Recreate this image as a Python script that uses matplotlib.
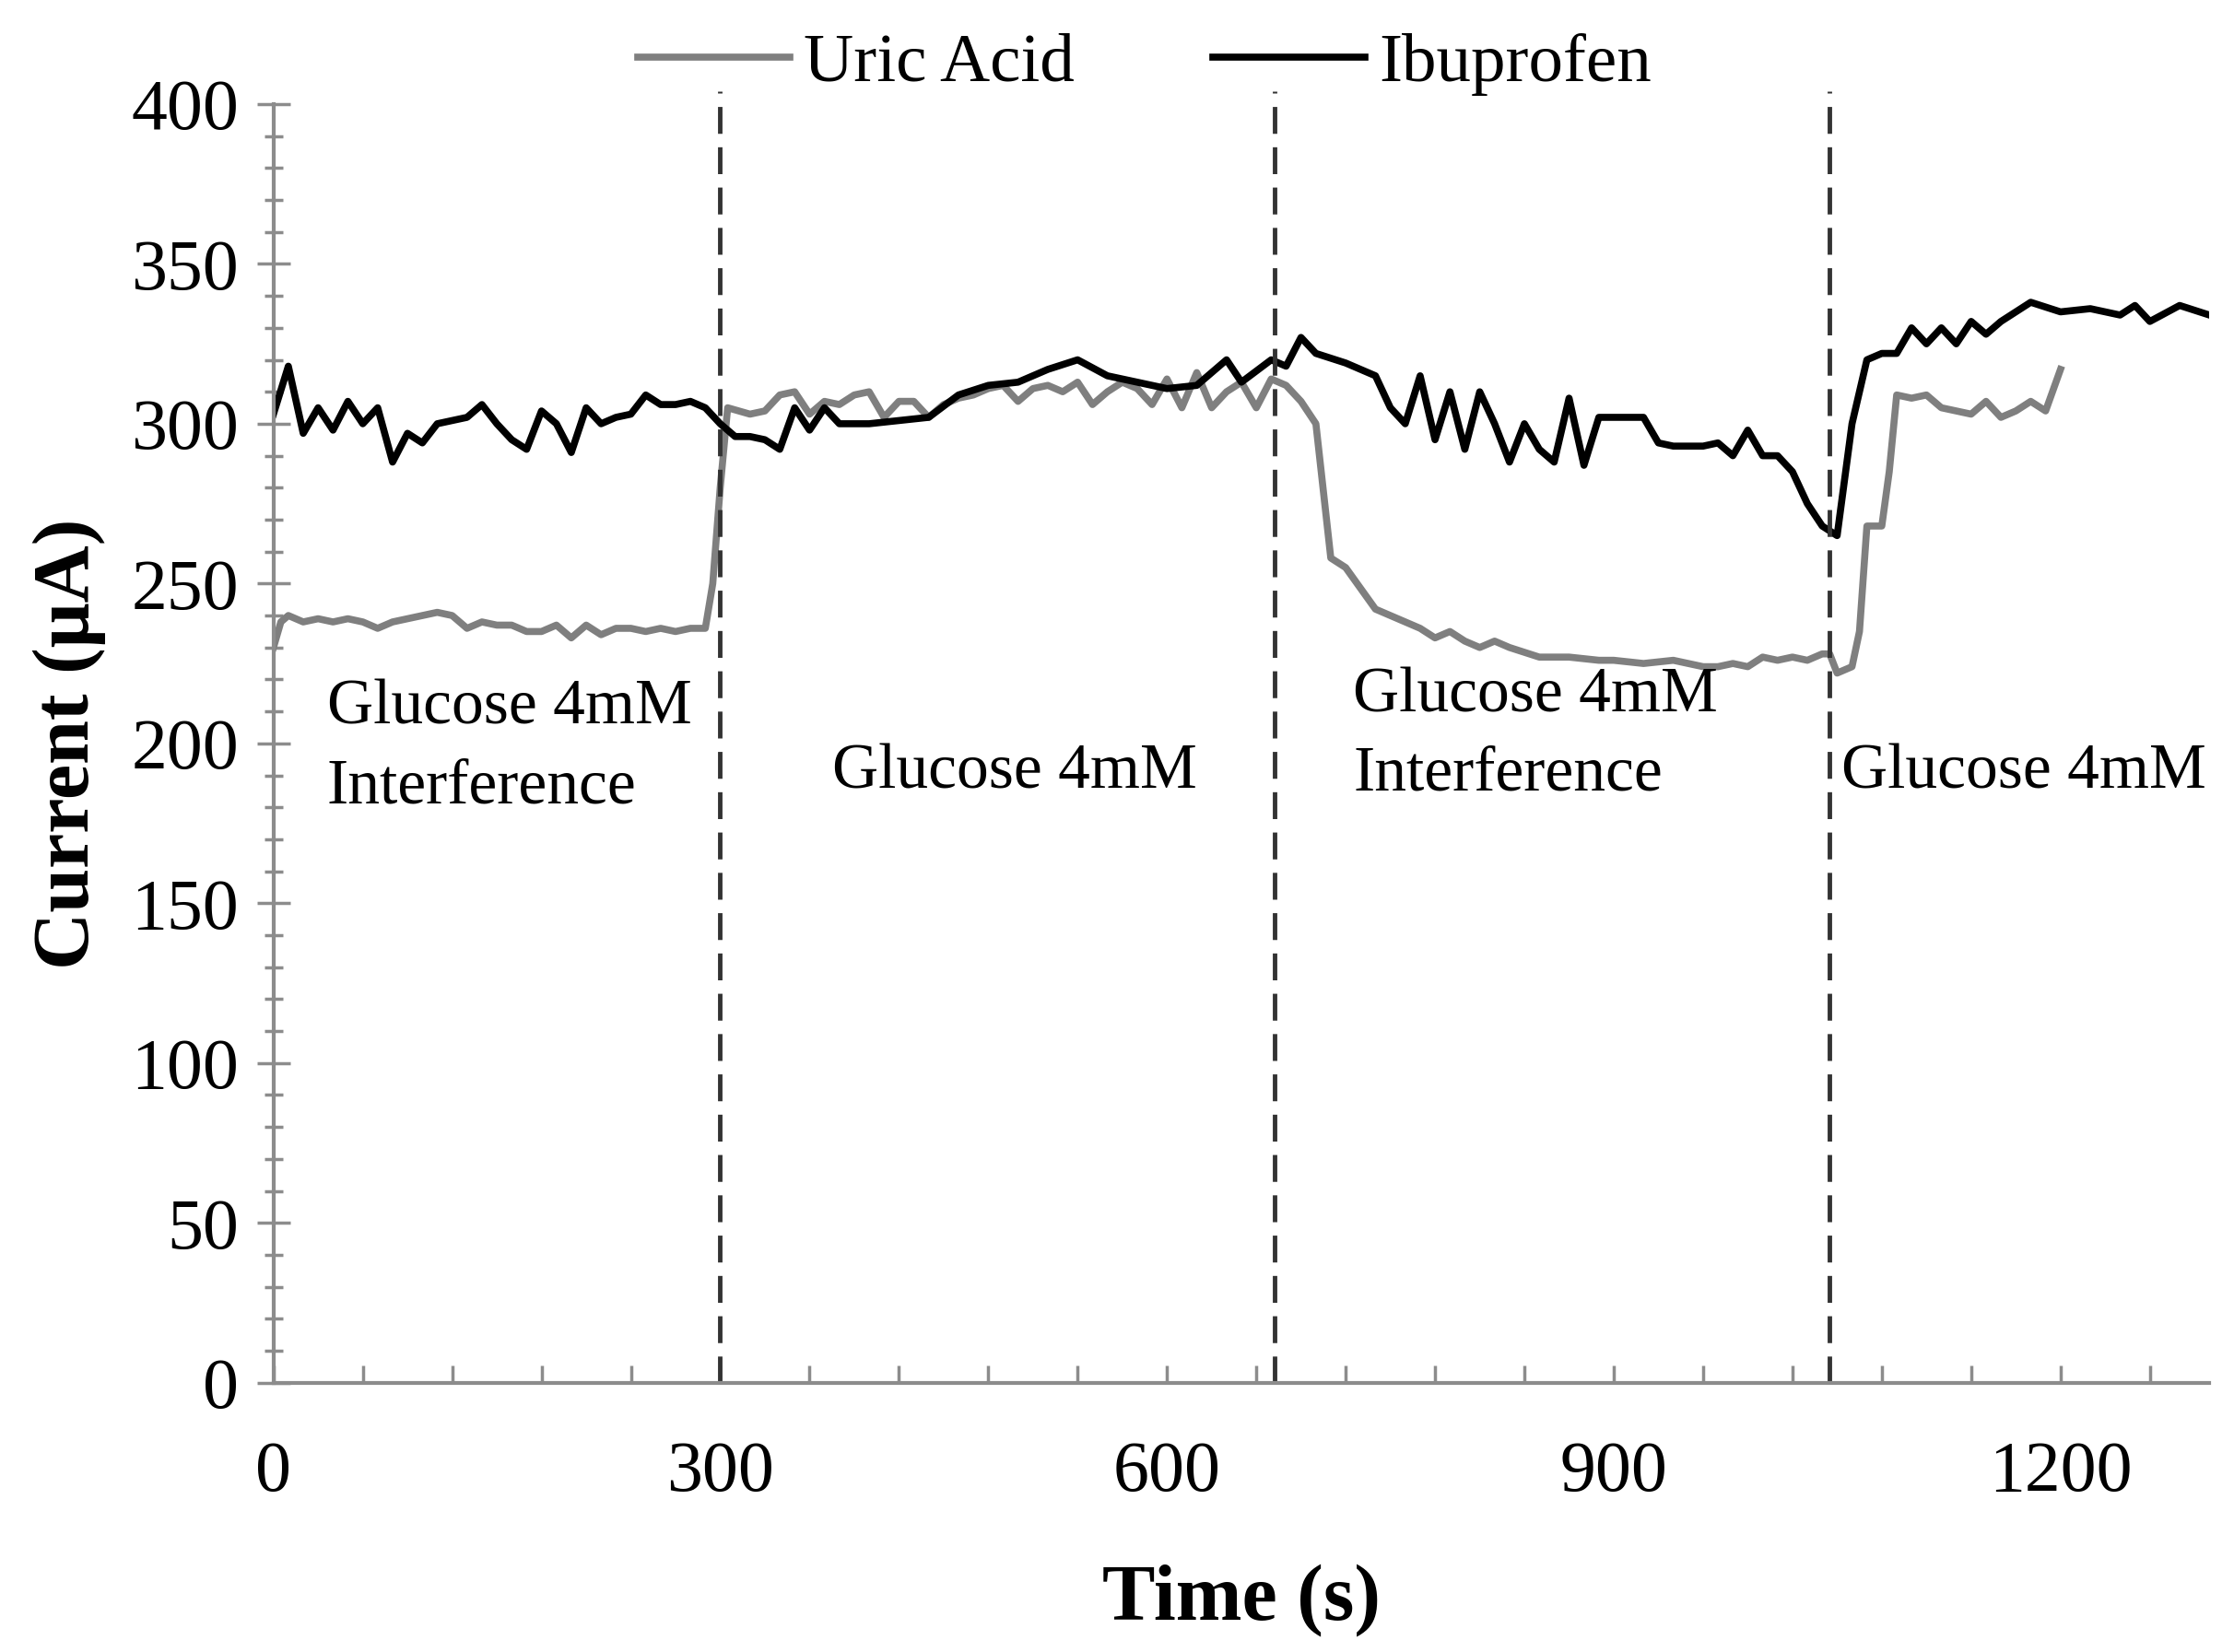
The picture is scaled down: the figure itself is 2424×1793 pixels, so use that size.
import matplotlib
matplotlib.use('Agg')
import matplotlib.pyplot as plt
import numpy as np

# Uric Acid (grey)
ua_t = [0, 5, 10, 20, 30, 40, 50, 60, 70, 80, 90, 100, 110, 120, 130, 140, 150, 160, 170, 180, 190, 200, 210, 220, 230, 240, 250, 260, 270, 280, 290, 295,
        300, 305, 320, 330, 340, 350, 360, 370, 380, 390, 400, 410, 420, 430, 440, 450, 460, 470, 480, 490, 500, 510, 520, 530, 540, 550, 560, 570, 580, 590, 600, 610, 620, 630, 640, 650, 660, 670, 680, 690,
        700, 710, 720, 740, 750, 760, 770, 780, 790, 800, 810, 820, 830, 850, 870, 890, 900, 920, 940, 950, 960, 970, 980, 990, 1000, 1010, 1020, 1030, 1040, 1045,
        1050, 1060, 1065, 1070, 1080, 1085, 1090, 1100, 1110, 1120, 1130, 1140, 1150, 1160, 1170, 1180, 1190, 1200]
ua_v = [230, 238, 240, 238, 239, 238, 239, 238, 236, 238, 239, 240, 241, 240, 236, 238, 237, 237, 235, 235, 237, 233, 237, 234, 236, 236, 235, 236, 235, 236, 236, 250,
        280, 305, 303, 304, 309, 310, 303, 307, 306, 309, 310, 302, 307, 307, 302, 306, 308, 309, 311, 312, 307, 311, 312, 310, 313, 306, 310, 313, 311, 306, 314, 305, 316, 305, 310, 313, 305, 314, 312, 307,
        300, 258, 255, 242, 240, 238, 236, 233, 235, 232, 230, 232, 230, 227, 227, 226, 226, 225, 226, 225, 224, 224, 225, 224, 227, 226, 227, 226, 228, 228,
        222, 224, 235, 268, 268, 285, 309, 308, 309, 305, 304, 303, 307, 302, 304, 307, 304, 317]

# Ibuprofen (black)
ib_t = [0, 10, 20, 30, 40, 50, 60, 70, 80, 90, 100, 110, 120, 130, 140, 150, 160, 170, 180, 190, 200, 210, 220, 230, 240, 250, 260, 270, 280, 290,
        300, 310, 320, 330, 340, 350, 360, 370, 380, 400, 420, 440, 460, 480, 500, 520, 540, 560, 580, 600, 620, 640, 650, 670, 680,
        690, 700, 720, 740, 750, 760, 770, 780, 790, 800, 810, 820, 830, 840, 850, 860, 870, 880, 890, 900, 920, 930, 940, 960, 970, 980, 990, 1000, 1010, 1020, 1030, 1040, 1050,
        1060, 1070, 1080, 1090, 1100, 1110, 1120, 1130, 1140, 1150, 1160, 1180, 1200, 1220, 1240, 1250, 1260, 1280, 1300]
ib_v = [303, 318, 297, 305, 298, 307, 300, 305, 288, 297, 294, 300, 301, 302, 306, 300, 295, 292, 304, 300, 291, 305, 300, 302, 303, 309, 306, 306, 307, 305,
        300, 296, 296, 295, 292, 305, 298, 305, 300, 300, 301, 302, 309, 312, 313, 317, 320, 315, 313, 311, 312, 320, 313, 320, 318,
        327, 322, 319, 315, 305, 300, 315, 295, 310, 292, 310, 300, 288, 300, 292, 288, 308, 287, 302, 302, 302, 294, 293, 293, 294, 290, 298, 290, 290, 285, 275, 268, 265,
        300, 320, 322, 322, 330, 325, 330, 325, 332, 328, 332, 338, 335, 336, 334, 337, 332, 337, 334]

boundaries = [300, 672, 1045]
labels = [(36, 220, 'Glucose 4mM\nInterference'), (375, 200, 'Glucose 4mM'),
          (725, 224, 'Glucose 4mM\nInterference'), (1053, 200, 'Glucose 4mM')]

plt.rcParams['font.family'] = ['Liberation Serif', 'DejaVu Serif']

fig = plt.figure(figsize=(24.24, 17.93), dpi=100)
ax = fig.add_axes([0.1224, 0.163, 0.8666, 0.774])

ax.plot(ua_t, ua_v, color='#7f7f7f', lw=5.5, label='Uric Acid')
ax.plot(ib_t, ib_v, color='black', lw=5.5, label='Ibuprofen')
for b in boundaries:
    ax.axvline(b, ymin=0, ymax=1.01, color='#333333', lw=3.5, ls=(0, (6, 3)), clip_on=False)
for x, y, s in labels:
    ax.text(x, y, s, fontsize=50, va='top', ha='left', linespacing=1.45)

ax.set_xlim(0, 1300)
ax.set_ylim(0, 400)
ax.set_xticks([0, 300, 600, 900, 1200])
ax.set_xticks(np.arange(0, 1301, 60), minor=True)
ax.set_yticks(np.arange(0, 401, 50))
ax.set_yticks(np.arange(0, 401, 10), minor=True)
ax.tick_params(axis='both', which='both', colors='#8c8c8c', labelcolor='black', labelsize=56, width=2.5)
ax.tick_params(axis='x', which='both', direction='in', length=14, pad=45)
ax.tick_params(axis='y', which='major', direction='inout', length=26, pad=14)
ax.tick_params(axis='y', which='minor', direction='inout', length=14)
for s in ['top', 'right']:
    ax.spines[s].set_visible(False)
for s in ['left', 'bottom']:
    ax.spines[s].set_color('#8c8c8c')
    ax.spines[s].set_linewidth(3)

ax.set_xlabel('Time (s)', fontsize=62, fontweight='bold', labelpad=45)
ax.set_ylabel('Current (\u03bcA)', fontsize=62, fontweight='bold', labelpad=20)
ax.legend(loc='lower center', bbox_to_anchor=(0.45, 0.985), ncol=2, frameon=False, fontsize=54,
          handlelength=2.2, handletextpad=0.2, columnspacing=2, borderaxespad=0)

fig.savefig('out.png', dpi=100)
